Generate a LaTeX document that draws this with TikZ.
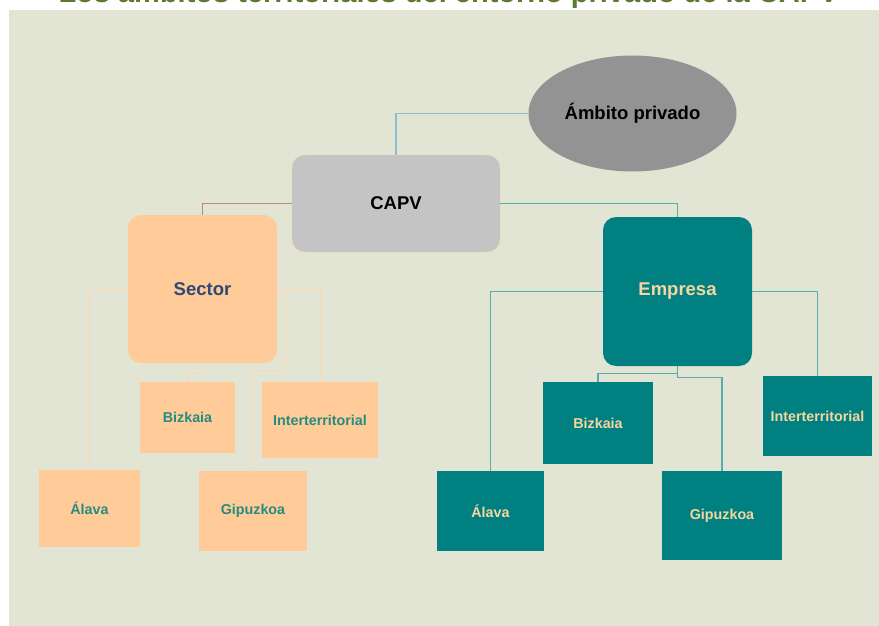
\documentclass[tikz,border=0pt]{standalone}
\usepackage{fontspec}
\setmainfont{Liberation Sans}
\usepackage{tikz}
\usetikzlibrary{shapes.geometric}
\definecolor{fondo}{RGB}{226,229,211}
\definecolor{melocoton}{RGB}{255,204,153}
\definecolor{verdeazul}{RGB}{0,128,128}
\definecolor{gris}{RGB}{196,196,196}
\definecolor{grisosc}{RGB}{147,147,147}
\definecolor{titulo}{RGB}{91,122,46}
\definecolor{azulosc}{RGB}{47,72,118}
\definecolor{textoverde}{RGB}{38,140,128}
\definecolor{textomel}{RGB}{246,214,160}
\definecolor{celeste}{RGB}{140,188,205}
\definecolor{marron}{RGB}{190,140,110}
\tikzset{>=stealth}

\begin{document}
\begin{tikzpicture}[x=1pt, y=-1pt,
	grande/.style={rounded corners=13pt, inner sep=0pt, minimum width=149pt, minimum height=148pt, font=\fontsize{18.5}{20}\selectfont\bfseries},
	caja/.style={inner sep=0pt, font=\fontsize{14.3}{16}\selectfont\bfseries},
	sec/.style={caja, fill=melocoton, text=textoverde},
	emp/.style={caja, fill=verdeazul, text=textomel},
	lsec/.style={draw=melocoton!80!white, line width=1pt},
	lemp/.style={draw=verdeazul!65!white, line width=1.2pt}]
		\useasboundingbox (0,0) rectangle (879,626);
		\fill[fondo] (9,10) rectangle (879,626);
		\node[anchor=base, text=titulo, font=\fontsize{29}{32}\selectfont\bfseries] (tit) at (448.5,3) {Los ámbitos territoriales del entorno privado de la CAPV};
		% nodos principales
		\node[ellipse, fill=grisosc, minimum width=208pt, minimum height=116pt, inner sep=0pt, font=\fontsize{18.5}{20}\selectfont\bfseries] (amb) at (632.5,113.5) {Ámbito privado};
		\node[grande, fill=gris, draw=melocoton!90!gris, minimum width=208pt, minimum height=97pt] (capv) at (396,203.5) {CAPV};
		\node[grande, fill=melocoton, text=azulosc] (sector) at (202.5,289) {Sector};
		\node[grande, fill=verdeazul, text=textomel, minimum height=149pt] (empresa) at (677.5,291.5) {Empresa};
		% hijos de Sector
		\node[sec, minimum width=95pt, minimum height=71pt] (sbiz) at (187.5,417.5) {Bizkaia};
		\node[sec, minimum width=116pt, minimum height=76pt] (sint) at (320,420) {Interterritorial};
		\node[sec, minimum width=101pt, minimum height=77pt] (sala) at (89.5,508.5) {Álava};
		\node[sec, minimum width=108pt, minimum height=80pt] (sgip) at (253,511) {Gipuzkoa};
		% hijos de Empresa
		\node[emp, minimum width=110pt, minimum height=82pt] (ebiz) at (598,423) {Bizkaia};
		\node[emp, minimum width=109pt, minimum height=80pt] (eint) at (817.5,416) {Interterritorial};
		\node[emp, minimum width=107pt, minimum height=80pt] (eala) at (490.5,511) {Álava};
		\node[emp, minimum width=120pt, minimum height=89pt] (egip) at (722,515.5) {Gipuzkoa};
		% conectores
		\draw[line width=1.2pt, draw=celeste] (amb.west) -| (capv.north);
		\draw[line width=1.2pt, draw=marron] (capv.west) -| (sector.north);
		\draw[lemp] (capv.east) -| (empresa.north);
		\draw[lsec] (sector.west) -| (sala.north);
		\draw[lsec] (sector.east) -| (sint.north);
		\draw[lsec] (sector.south) -- ++(0,10) -| (sbiz.north);
		\draw[lsec] (sector.east) ++(8,0) -- ++(0,81) -| (sgip.north);
		\draw[lemp] (empresa.west) -| (eala.north);
		\draw[lemp] (empresa.east) -| (eint.north);
		\draw[lemp] (empresa.south) -- ++(0,7) -| (ebiz.north);
		\draw[lemp] (empresa.south) -- ++(0,11) -| (egip.north);
\end{tikzpicture}
\end{document}
